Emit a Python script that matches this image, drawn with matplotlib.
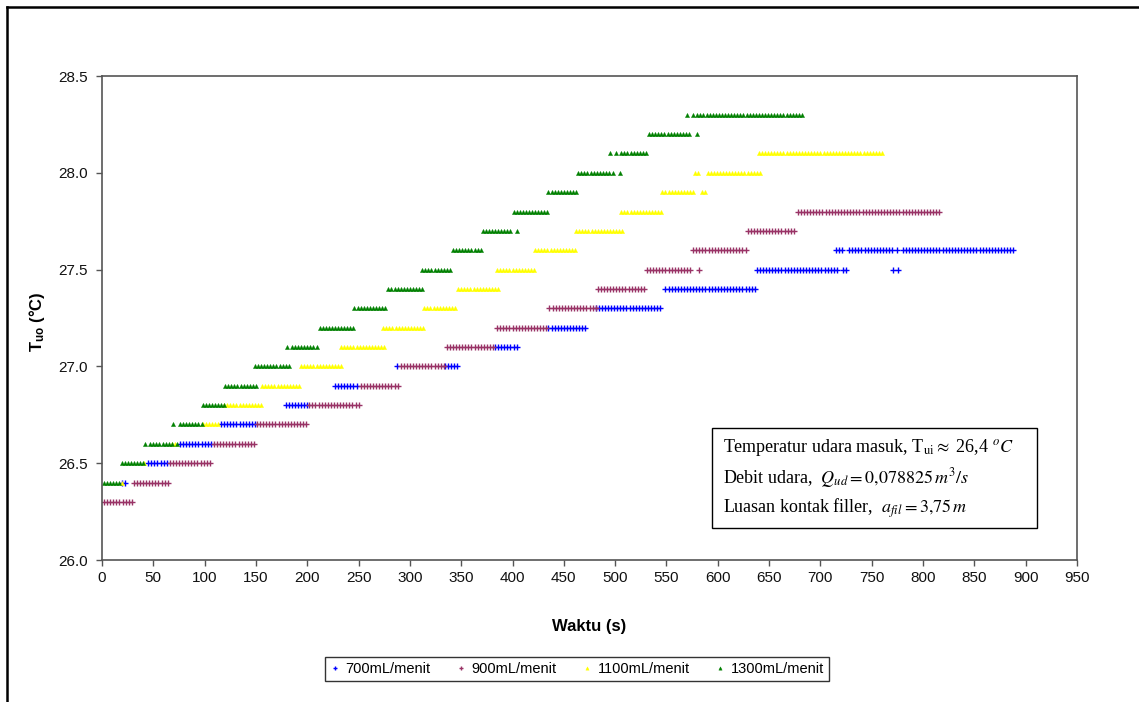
import numpy as np
import matplotlib
matplotlib.use("Agg")
import matplotlib.pyplot as plt
from matplotlib.lines import Line2D
from matplotlib.patches import Rectangle

plt.rcParams['font.family'] = ['Liberation Sans', 'DejaVu Sans']
plt.rcParams['mathtext.fontset'] = 'custom'
plt.rcParams['mathtext.rm'] = 'Liberation Sans'
plt.rcParams['mathtext.bf'] = 'Liberation Sans:bold'
plt.rcParams['mathtext.it'] = 'Liberation Sans:italic'

# ---- data: each series = horizontal runs (level, start time, end time), sampled every STEP s
STEP = 3.0

lv_700 = [26.4, 26.5, 26.6, 26.7, 26.8, 26.9, 27.0, 27.0, 27.1, 27.2, 27.3, 27.4,
          27.5, 27.5, 27.5, 27.5, 27.6, 27.6, 27.6, 27.6]
t0_700 = [19, 45, 76, 116, 179, 227, 287, 334, 383, 435, 481, 549,
          638, 722, 771, 776, 715, 728, 775, 780]
t1_700 = [23, 64, 107, 149, 200, 250, 287, 346, 406, 473, 546, 637,
          716, 727, 771, 776, 722, 770, 775, 890]

lv_900 = [26.3, 26.4, 26.5, 26.6, 26.7, 26.8, 26.9, 27.0, 27.1, 27.2, 27.3, 27.4,
          27.5, 27.5, 27.6, 27.6, 27.7, 27.8]
t0_900 = [2, 31, 66, 109, 151, 202, 252, 291, 336, 385, 436, 483,
          531, 582, 576, 585, 629, 678]
t1_900 = [29, 65, 107, 149, 200, 251, 289, 334, 383, 435, 481, 530,
          574, 582, 582, 628, 676, 818]

lv_1100 = [26.4, 26.5, 26.6, 26.7, 26.8, 26.9, 27.0, 27.1, 27.2, 27.3, 27.4, 27.5,
           27.6, 27.7, 27.8, 27.9, 27.9, 28.0, 28.0, 28.1]
t0_1100 = [19, 41, 68, 98, 119, 156, 194, 233, 274, 314, 347, 385,
           422, 462, 506, 546, 585, 578, 590, 640]
t1_1100 = [19, 43, 73, 113, 155, 194, 234, 275, 314, 346, 386, 421,
           461, 507, 545, 578, 590, 583, 641, 761]

lv_1300 = [26.4, 26.5, 26.6, 26.6, 26.6, 26.7, 26.7, 26.8, 26.9, 27.0, 27.0, 27.1,
           27.1, 27.2, 27.3, 27.4, 27.5, 27.6, 27.7, 27.7, 27.8, 27.9, 28.0, 28.0,
           28.0, 28.1, 28.1, 28.1, 28.2, 28.2, 28.2, 28.3, 28.3, 28.3]
t0_1300 = [2, 19, 42, 47, 73, 69, 76, 98, 120, 149, 182, 180,
           185, 212, 246, 279, 312, 342, 371, 404, 401, 435, 464, 498,
           505, 495, 501, 506, 533, 572, 580, 570, 576, 580]
t1_1300 = [18, 41, 42, 68, 73, 69, 98, 119, 150, 179, 182, 180,
           211, 245, 278, 312, 341, 370, 400, 404, 434, 464, 494, 498,
           505, 495, 501, 532, 569, 572, 580, 570, 576, 683]

labels = ['700mL/menit', '900mL/menit', '1100mL/menit', '1300mL/menit']
colors = ['#0000FF', '#993366', '#FFFF00', '#008000']
markers = ['+', '+', '^', '^']

x_ticks = list(range(0, 951, 50))
y_ticks = [26.0, 26.5, 27.0, 27.5, 28.0, 28.5]


def expand(lv, t0, t1):
    xs, ys = [], []
    for l, a, b in zip(lv, t0, t1):
        t = np.arange(a, b + 0.01, STEP)
        xs.extend(t)
        ys.extend([l] * len(t))
    return np.array(xs), np.array(ys)


series = [(lv_700, t0_700, t1_700), (lv_900, t0_900, t1_900),
          (lv_1100, t0_1100, t1_1100), (lv_1300, t0_1300, t1_1300)]

W, H = 1139, 702
fig = plt.figure(figsize=(W / 100, H / 100), dpi=100)
fig.patch.set_facecolor('white')


def fx(px):
    return px / W


def fy(py):
    return 1 - py / H


ax = fig.add_axes([fx(102), fy(560), fx(1077) - fx(102), fy(76) - fy(560)])

handles = []
for (lv, t0, t1), lab, c, m in zip(series, labels, colors, markers):
    xs, ys = expand(lv, t0, t1)
    if m == '+':
        h, = ax.plot(xs, ys, linestyle='none', marker='+', markersize=4.2,
                     markeredgewidth=1.0, color=c, label=lab)
    else:
        h, = ax.plot(xs, ys, linestyle='none', marker='^', markersize=3.0,
                     markeredgewidth=0.3, color=c, label=lab)
    handles.append(h)

ax.set_xlim(0, 950)
ax.set_ylim(26.0, 28.5)
ax.set_xticks(x_ticks)
ax.set_xticklabels([str(v) for v in x_ticks])
ax.set_yticks(y_ticks)
ax.set_yticklabels([f"{v:.1f}" for v in y_ticks])
for s in ax.spines.values():
    s.set_color('#555555')
    s.set_linewidth(1.2)
ax.tick_params(axis='both', direction='out', length=4, width=1.0, color='#555555',
               labelsize=11, labelcolor='#111111')
ax.tick_params(axis='x', pad=4)
ax.tick_params(axis='y', pad=6)

# axis labels
fig.text(fx(589), fy(627), 'Waktu (s)', ha='center', va='center',
         fontsize=12, fontweight='bold')
fig.text(fx(37), fy(322), r'T$_{\mathbf{uo}}$ (°C)', ha='center', va='center',
         rotation=90, fontsize=12, fontweight='bold')

# legend
leg = fig.legend(handles=handles, labels=labels, loc='center',
                 bbox_to_anchor=(fx(577), fy(669)), ncol=4, frameon=True,
                 fancybox=False, edgecolor='black', fontsize=10.5,
                 handlelength=0.7, handletextpad=0.35, columnspacing=1.75,
                 borderpad=0.35, markerscale=0.8)
leg.get_frame().set_linewidth(1.0)

# annotation box
ax_box = Rectangle((fx(712), fy(528)), fx(1037) - fx(712), fy(428) - fy(528),
                   transform=fig.transFigure, facecolor='white', edgecolor='black',
                   linewidth=1.0, zorder=5)
fig.patches.append(ax_box)
ann_lines = [
    r'Temperatur udara masuk, T$_{\mathrm{ui}} \approx$ 26,4 $^{o}C$',
    r'Debit udara,  $Q_{ud} = 0{,}078825\,m^3/s$',
    r'Luasan kontak filler,  $a_{fil} = 3{,}75\,m$',
]
for i, s in enumerate(ann_lines):
    fig.text(fx(723), fy(448 + 30 * i), s, ha='left', va='center',
             fontsize=13, family=['Liberation Serif', 'DejaVu Serif'],
             math_fontfamily='stix', zorder=6)

# outer frame (top & left edges visible)
fig.add_artist(Line2D([fx(7), fx(1139)], [fy(7), fy(7)], transform=fig.transFigure,
                      color='black', linewidth=1.8))
fig.add_artist(Line2D([fx(7), fx(7)], [fy(7), fy(702)], transform=fig.transFigure,
                      color='black', linewidth=1.8))

fig.savefig('out.png', dpi=100, facecolor='white')
